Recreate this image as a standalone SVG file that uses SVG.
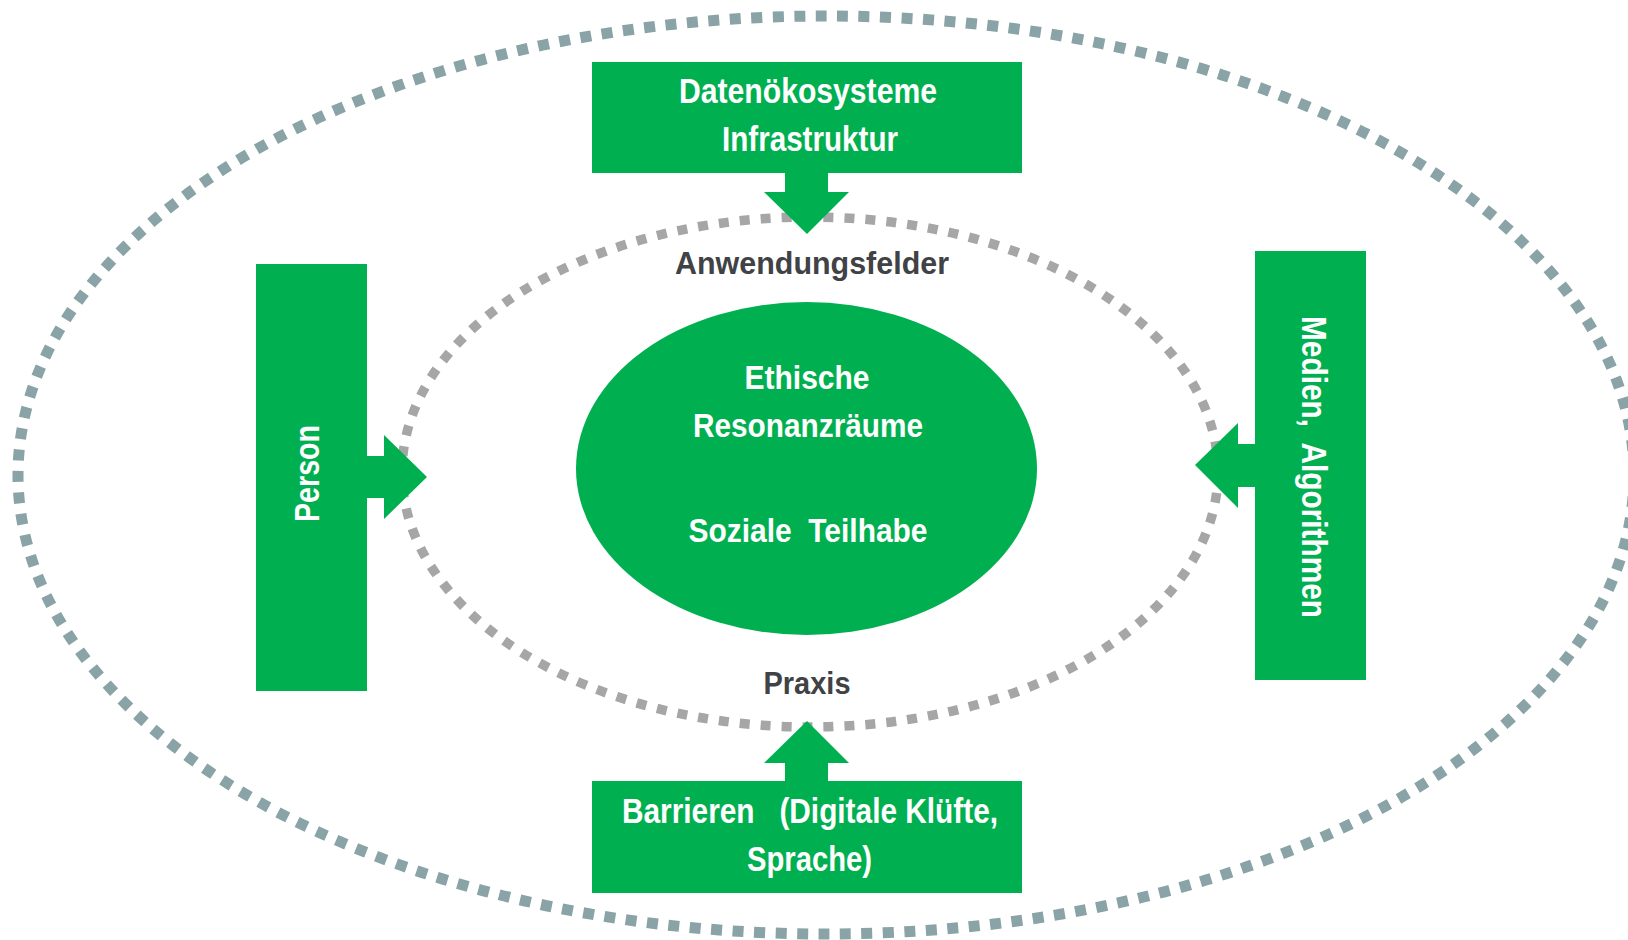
<svg xmlns="http://www.w3.org/2000/svg" width="1628" height="940" viewBox="0 0 1628 940">
  <style>
    .box { fill: #00B050; }
    .arrow { fill: #00B050; }
    .lbl { font-family: "Liberation Sans", Arial, sans-serif; font-weight: bold; fill: #FFFFFF; text-anchor: middle; white-space: pre; }
    .dark { fill: #404245; }
    .ring-outer { fill: none; stroke: #89A3A6; stroke-width: 11; stroke-dasharray: 11 10.5; }
    .ring-inner { fill: none; stroke: #A6A6A6; stroke-width: 9.5; stroke-dasharray: 10 11; }
  </style>
  <rect width="1628" height="940" fill="#FFFFFF"/>

  <!-- dotted rings -->
  <g id="rings">
    <ellipse class="ring-outer" cx="826" cy="475" rx="808" ry="459"/>
    <ellipse class="ring-inner" cx="810" cy="472" rx="408" ry="255"/>
  </g>

  <!-- ring labels -->
  <g id="label-anwendungsfelder">
    <text class="lbl dark" x="812" y="274" font-size="32" textLength="274" lengthAdjust="spacingAndGlyphs">Anwendungsfelder</text>
  </g>
  <g id="label-praxis">
    <text class="lbl dark" x="807" y="694" font-size="32" textLength="87" lengthAdjust="spacingAndGlyphs">Praxis</text>
  </g>

  <!-- centre -->
  <g id="node-center">
    <ellipse class="box" cx="806.5" cy="468.5" rx="230.5" ry="166.5"/>
    <text class="lbl" x="807" y="389" font-size="33" textLength="125" lengthAdjust="spacingAndGlyphs">Ethische</text>
    <text class="lbl" x="808" y="437" font-size="33" textLength="230" lengthAdjust="spacingAndGlyphs">Resonanzräume</text>
    <text class="lbl" x="808" y="542" font-size="33" textLength="239" lengthAdjust="spacingAndGlyphs" xml:space="preserve">Soziale  Teilhabe</text>
  </g>

  <!-- top -->
  <g id="node-daten">
    <rect class="box" x="592" y="62" width="430" height="111"/>
    <text class="lbl" x="808" y="103" font-size="35" textLength="258" lengthAdjust="spacingAndGlyphs">Datenökosysteme</text>
    <text class="lbl" x="810" y="151" font-size="35" textLength="176" lengthAdjust="spacingAndGlyphs">Infrastruktur</text>
  </g>

  <!-- bottom -->
  <g id="node-barrieren">
    <rect class="box" x="592" y="781" width="430" height="112"/>
    <text class="lbl" x="810" y="823" font-size="35" textLength="376" lengthAdjust="spacingAndGlyphs" xml:space="preserve">Barrieren   (Digitale Klüfte,</text>
    <text class="lbl" x="809.5" y="871" font-size="35" textLength="125" lengthAdjust="spacingAndGlyphs">Sprache)</text>
  </g>

  <!-- left -->
  <g id="node-person">
    <rect class="box" x="256" y="264" width="111" height="427"/>
    <text class="lbl" transform="translate(319 473.5) rotate(-90)" x="0" y="0" font-size="35" textLength="97" lengthAdjust="spacingAndGlyphs">Person</text>
  </g>

  <!-- right -->
  <g id="node-medien">
    <rect class="box" x="1255" y="251" width="111" height="429"/>
    <text class="lbl" transform="translate(1302 467) rotate(90)" x="0" y="0" font-size="35" textLength="302" lengthAdjust="spacingAndGlyphs" xml:space="preserve">Medien,  Algorithmen</text>
  </g>

  <!-- block arrows -->
  <g id="connectors">
    <polygon class="arrow" points="785,172 828,172 828,192 849,192 807,234 764,192 785,192"/>
    <polygon class="arrow" points="785,782 828,782 828,763 849,763 807,721 764,763 785,763"/>
    <polygon class="arrow" points="366,456 384,456 384,435 427,477 384,519 384,498 366,498"/>
    <polygon class="arrow" points="1256,444 1238,444 1238,423 1195,465 1238,508 1238,487 1256,487"/>
  </g>
</svg>
